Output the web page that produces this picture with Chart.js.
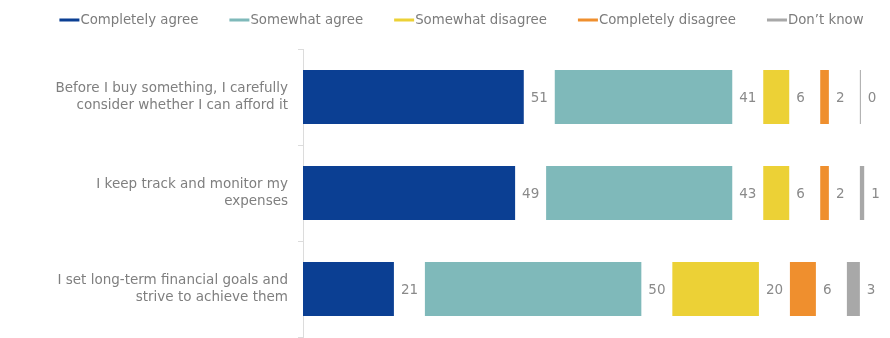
<!DOCTYPE html>
<html><head><meta charset="utf-8">
<script src="https://cdn.jsdelivr.net/npm/chart.js@4/dist/chart.umd.min.js"></script>
<style>html,body{margin:0;padding:0;background:#fff;}#wrap{width:890px;height:338px;}</style>
</head><body><div id="wrap"><canvas id="c" width="890" height="338"></canvas></div>
<script>
const categories = [
  ["Before I buy something, I carefully", "consider whether I can afford it"],
  ["I keep track and monitor my", "expenses"],
  ["I set long-term financial goals and", "strive to achieve them"]
];
const seriesNames = ["Completely agree", "Somewhat agree", "Somewhat disagree", "Completely disagree", "Don\u2019t know"];
const completelyAgree    = [51, 49, 21];
const somewhatAgree      = [41, 43, 50];
const somewhatDisagree   = [6, 6, 20];
const completelyDisagree = [2, 2, 6];
const dontKnow           = [0, 1, 3];
const seriesValues = [completelyAgree, somewhatAgree, somewhatDisagree, completelyDisagree, dontKnow];
const colors = ["#0b3f93", "#7fb9ba", "#ecd136", "#ef8f2e", "#a8a8a8"];

const GAP = 7.16;      // blank space (axis units) after each segment for its label
const X_MAX = 135.6;

// floating segments built from the values
const floats = seriesValues.map(() => []);
categories.forEach((c, i) => {
  let cur = 0;
  seriesValues.forEach((vals, s) => {
    floats[s].push([cur, cur + vals[i]]);
    cur += vals[i] + GAP;
  });
});

const labelPlugin = {
  id: 'segLabels',
  afterDatasetsDraw(chart) {
    const ctx = chart.ctx;
    ctx.save();
    ctx.font = '13.5px "DejaVu Sans"';
    ctx.fillStyle = '#8a8a8a';
    ctx.textAlign = 'left';
    ctx.textBaseline = 'middle';
    chart.data.datasets.forEach((ds, s) => {
      const meta = chart.getDatasetMeta(s);
      meta.data.forEach((el, i) => {
        const end = Math.max(el.x, el.base);
        ctx.fillText(String(seriesValues[s][i]), end + 7, el.y + 1);
      });
    });
    ctx.restore();
  }
};

// line-marker legend across the top
const legendPlugin = {
  id: 'lineLegend',
  afterDraw(chart) {
    const ctx = chart.ctx;
    ctx.save();
    ctx.font = '13.3px "DejaVu Sans"';
    ctx.textBaseline = 'middle';
    ctx.textAlign = 'left';
    const lineW = 20, textGap = 1, itemGap = 31, y = 20;
    const widths = seriesNames.map(n => lineW + textGap + ctx.measureText(n).width);
    const total = widths.reduce((a, b) => a + b, 0) + itemGap * (widths.length - 1);
    let x = 461.5 - total / 2;
    seriesNames.forEach((n, s) => {
      ctx.fillStyle = colors[s];
      ctx.fillRect(x, y - 1.5, lineW, 3);
      ctx.fillStyle = '#7c7c7c';
      ctx.fillText(n, x + lineW + textGap, y + 0.5);
      x += widths[s] + itemGap;
    });
    ctx.restore();
  }
};

new Chart(document.getElementById('c'), {
  type: 'bar',
  data: {
    labels: categories,
    datasets: seriesNames.map((n, s) => ({
      label: n,
      data: floats[s],
      backgroundColor: colors[s],
      borderWidth: 0,
      minBarLength: 1,
      barPercentage: 0.5625,
      categoryPercentage: 1
    }))
  },
  options: {
    indexAxis: 'y',
    responsive: false,
    animation: false,
    grouped: false,
    layout: { padding: { top: 49, right: 0, left: 0, bottom: 1 } },
    plugins: {
      tooltip: { enabled: false },
      legend: { display: false }
    },
    scales: {
      x: { display: false, min: 0, max: X_MAX },
      y: {
        afterFit(scale) { scale.width = 303; scale.paddingTop = 0; scale.paddingBottom = 0; },
        grid: { offset: true, drawOnChartArea: false, drawTicks: true, tickLength: 5, color: '#dcdcdc' },
        border: { display: true, color: '#dcdcdc' },
        ticks: { font: { family: '"DejaVu Sans"', size: 13.5, lineHeight: 1.2 }, color: '#7f7f7f', padding: 10 }
      }
    }
  },
  plugins: [labelPlugin, legendPlugin]
});
</script></body></html>
